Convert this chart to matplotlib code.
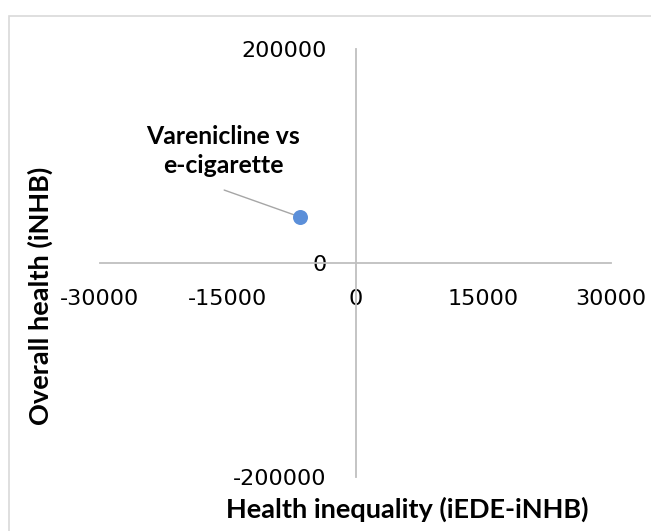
import matplotlib
matplotlib.use("Agg")
import matplotlib.pyplot as plt
from matplotlib.patches import Rectangle

# data
labels = ["Varenicline vs\ne-cigarette"]
x_vals = [-6500]
y_vals = [43000]
x_ticks = [-30000, -15000, 0, 15000, 30000]
y_ticks = [-200000, 0, 200000]
x_title = "Health inequality (iEDE-iNHB)"
y_title = "Overall health (iNHB)"

plt.rcParams["font.family"] = "Lato"
plt.rcParams["axes.unicode_minus"] = False

W, H = 651, 531
fig = plt.figure(figsize=(W / 100, H / 100), dpi=100)

# outer chart border (only left/top edges show)
fig.patches.append(Rectangle((9 / W, -0.1), 1.2, 1 - 16 / H + 0.1,
                             transform=fig.transFigure, fill=False,
                             ec="#D9D9D9", lw=1.2))

ax = fig.add_axes([100 / W, 1 - 477 / H, 511 / W, 428 / H])
ax.set_xlim(x_ticks[0], x_ticks[-1])
ax.set_ylim(y_ticks[0], y_ticks[-1])

axis_col = "#BFBFBF"
for side in ("top", "right"):
    ax.spines[side].set_visible(False)
for side in ("left", "bottom"):
    ax.spines[side].set_position(("data", 0))
    ax.spines[side].set_color(axis_col)
    ax.spines[side].set_linewidth(1.3)

ax.set_xticks(x_ticks)
ax.set_xticklabels([str(v) for v in x_ticks])
ax.set_yticks(y_ticks)
ax.set_yticklabels([str(v) for v in y_ticks])
ax.tick_params(length=0, colors="black", pad=21)
ax.tick_params(axis="x", pad=19)
for t in ax.get_xticklabels() + ax.get_yticklabels():
    t.set_family("DejaVu Sans")
    t.set_fontsize(16)

ax.plot(x_vals, y_vals, "o", ms=10.8, color="#5B8FD9", mec="none", zorder=5)

for x, y, lab in zip(x_vals, y_vals, labels):
    ax.annotate("", xy=(x, y), xytext=(-54.7, 19.4), textcoords="offset points",
                arrowprops=dict(arrowstyle="-", color="#A6A6A6", lw=1.0,
                                shrinkA=0, shrinkB=0))
    ax.annotate(lab, xy=(x, y), xytext=(-55.4, 47.5), textcoords="offset points",
                ha="center", va="center", fontsize=17.8, fontweight="bold",
                linespacing=1.3)

fig.text(407 / W, 1 - 509 / H, x_title, ha="center", va="center",
         fontsize=19.5, fontweight="bold")
fig.text(40 / W, 1 - 296 / H, y_title, ha="center", va="center",
         rotation=90, fontsize=19.5, fontweight="bold")

fig.savefig("out.png", dpi=100)
